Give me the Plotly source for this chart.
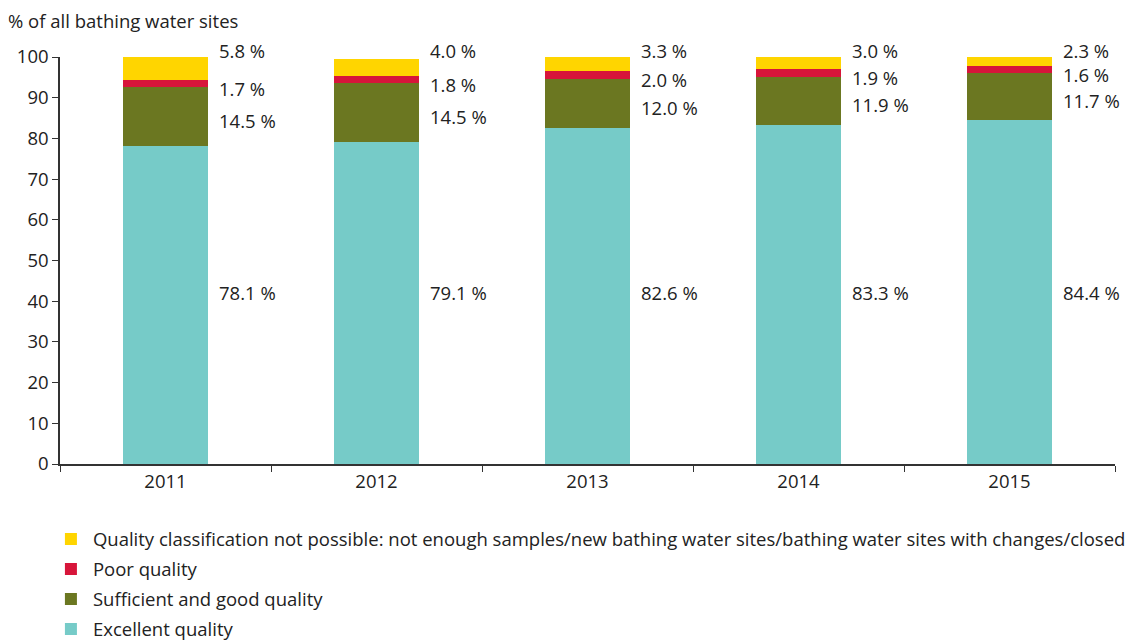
import plotly.graph_objects as go

years = ["2011", "2012", "2013", "2014", "2015"]
excellent = [78.1, 79.1, 82.6, 83.3, 84.4]
sufficient = [14.5, 14.5, 12.0, 11.9, 11.7]
poor = [1.7, 1.8, 2.0, 1.9, 1.6]
not_classified = [5.8, 4.0, 3.3, 3.0, 2.3]

names = [
    "Excellent quality",
    "Sufficient and good quality",
    "Poor quality",
    "Quality classification not possible: not enough samples/new bathing water sites/bathing water sites with changes/closed",
]
colors = ["#76CBC8", "#6B7721", "#D7153A", "#FFD500"]
series = [excellent, sufficient, poor, not_classified]

FONT = "Open Sans"
FS = 18.5
TXT = "#222222"

fig = go.Figure()
for k, (name, col, vals) in enumerate(zip(names, colors, series)):
    fig.add_trace(go.Bar(x=years, y=vals, name=name, legendgroup=f"g{k}",
                         legendrank=1000 - k,
                         marker=dict(color=col, line=dict(width=0)),
                         width=0.405, hoverinfo="skip"))

label_shift = [0, -4, -5, 7]
annotations = []
for i, yr in enumerate(years):
    base = 0.0
    for k, vals in enumerate(series):
        v = vals[i]
        if k == 3:
            ypos = 100.0
        elif k == 0:
            ypos = max(excellent) / 2.0
        else:
            ypos = base + v / 2.0
        annotations.append(dict(x=i, y=ypos, xref="x", yref="y", text=f"{v:.1f} %",
                                showarrow=False, xanchor="left", yanchor="middle",
                                xshift=51, yshift=label_shift[k],
                                font=dict(family=FONT, size=FS, color=TXT)))
        base += v

annotations.append(dict(x=0, y=1, xref="paper", yref="paper", xshift=-54, yshift=37,
                        text="% of all bathing water sites", showarrow=False,
                        xanchor="left", yanchor="middle",
                        font=dict(family=FONT, size=FS, color=TXT)))

fig.update_layout(
    barmode="stack",
    width=1136, height=644,
    margin=dict(l=60, r=21, t=57, b=180),
    plot_bgcolor="white", paper_bgcolor="white",
    font=dict(family=FONT, size=FS, color=TXT),
    annotations=annotations,
    showlegend=True,
    legend=dict(orientation="v", traceorder="grouped", x=-0.0105, y=0.192,
                xanchor="left", yanchor="top",
                xref="paper", yref="container", font=dict(family=FONT, size=FS, color=TXT),
                itemwidth=34, tracegroupgap=3),
    xaxis=dict(type="category", showline=True, linecolor="#333333", linewidth=1.5,
               ticks="outside", tickson="boundaries", ticklen=6, tickcolor="#333333",
               tickfont=dict(family=FONT, size=FS, color=TXT), showgrid=False,
               range=[-0.5, 4.5]),
    yaxis=dict(range=[0, 100], tickvals=list(range(0, 101, 10)), showline=True,
               linecolor="#333333", linewidth=1.5, ticks="outside", ticklen=6,
               tickcolor="#333333", showgrid=False, zeroline=False,
               tickfont=dict(family=FONT, size=FS, color=TXT)),
)

fig.write_html("out.html", config={"displayModeBar": False},
               post_script="document.body.style.margin='0';document.body.style.padding='0';document.body.style.overflow='hidden';")
